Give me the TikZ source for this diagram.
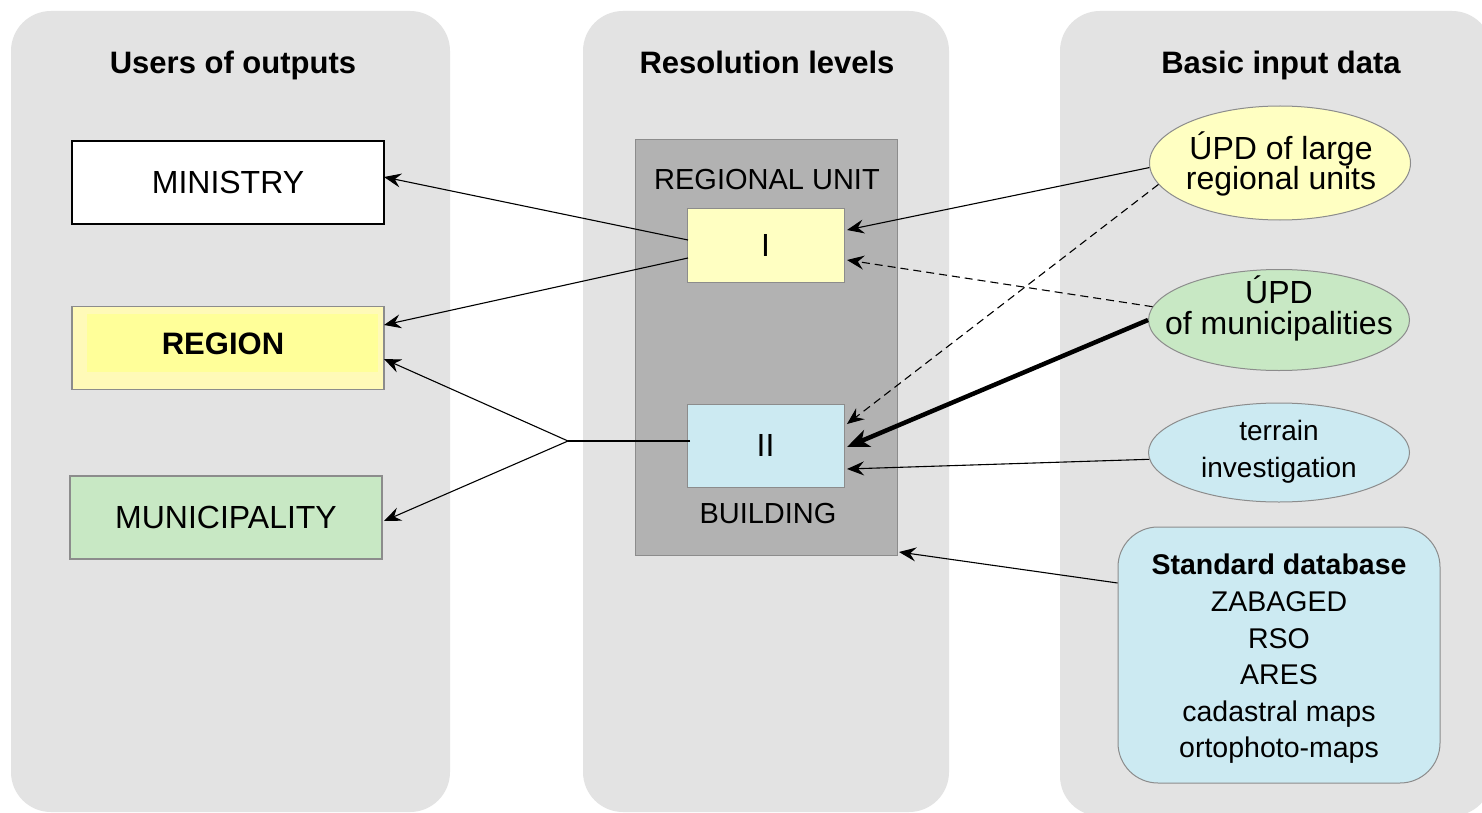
\documentclass[tikz,border=0pt]{standalone}
\usepackage{fontspec}
\setmainfont{Liberation Sans}
\usetikzlibrary{arrows.meta,shapes.geometric}
\definecolor{panelgray}{HTML}{E3E3E3}
\definecolor{darkgray}{HTML}{B2B2B2}
\definecolor{lyellow}{HTML}{FFFFC2}
\definecolor{ryellow}{HTML}{FFFAB8}
\definecolor{ryellowin}{HTML}{FFFF99}
\definecolor{lgreen}{HTML}{C8E8C4}
\definecolor{lblue}{HTML}{CCEAF2}
\definecolor{edgegray}{HTML}{8C8C8C}
\tikzset{
  panel/.style={fill=panelgray, draw=none, rounded corners=40pt},
  heading/.style={font=\fontsize{31}{34}\selectfont\bfseries, anchor=base},
  userbox/.style={draw=edgegray, line width=1.2pt, minimum width=312pt, minimum height=83pt, font=\fontsize{32}{36}\selectfont},
  levelbox/.style={draw=edgegray, line width=1pt, minimum width=157pt, minimum height=74pt, font=\fontsize{32}{36}\selectfont},
  datael/.style={ellipse, draw=edgegray, line width=1pt, minimum width=261pt, inner sep=0pt},
  eltext/.style={align=center, inner sep=0pt},
  conn/.style={-{Stealth[length=17pt,width=14pt,inset=6pt]}, line width=1.1pt},
  dconn/.style={conn, dashed, dash pattern=on 8pt off 5pt},
}
\begin{document}
\begin{tikzpicture}[x=1pt,y=-1pt]
\useasboundingbox (0,0) rectangle (1482,813);
\fill[white] (0,0) rectangle (1482,813);
% panels
\fill[panel] (11,11) rectangle (450,812);
\fill[panel] (583,11) rectangle (949,812);
\begin{scope}
\clip (0,0) rectangle (1482,813);
\fill[panel] (1060,11) rectangle (1492,816);
\end{scope}
% headings
\node[heading] (h1) at (233,74) {Users of outputs};
\node[heading] (h2) at (767,74) {Resolution levels};
\node[heading] (h3) at (1281,74) {Basic input data};
% users
\node[userbox, fill=white, draw=black] (min) at (228,182.5) {MINISTRY};
\node[userbox, fill=ryellow] (reg) at (228,348) {};
\fill[ryellowin] (87,314) rectangle (378,372);
\node[font=\fontsize{31}{34}\selectfont\bfseries] (regt) at (223,344) {REGION};
\node[userbox, fill=lgreen] (mun) at (226,517.5) {MUNICIPALITY};
% resolution levels
\node[draw=edgegray, line width=1pt, fill=darkgray, minimum width=262pt, minimum height=415pt] (gray) at (766,347.5) {};
\node[font=\fontsize{29}{32}\selectfont] (ru) at (767,180) {REGIONAL UNIT};
\node[levelbox, fill=lyellow] (I) at (765.5,245.5) {I};
\node[levelbox, fill=lblue, minimum height=83pt] (II) at (765.5,445.5) {II};
\node[font=\fontsize{29}{32}\selectfont] (bd) at (768,514) {BUILDING};
% input data
\node[datael, fill=lyellow, minimum height=114pt] (upd1) at (1280,163) {};
\node[eltext, font=\fontsize{32}{28}\selectfont] (upd1t) at (1281,164) {ÚPD of large\\regional units};
\node[datael, fill=lgreen, minimum height=101pt] (upd2) at (1279,320) {};
\node[eltext, font=\fontsize{32}{31}\selectfont] (upd2t) at (1279,308) {ÚPD\\of municipalities};
\node[datael, fill=lblue, minimum height=99pt] (ter) at (1279,452.5) {};
\node[eltext, font=\fontsize{28}{37}\selectfont] (tert) at (1279,452) {terrain\\investigation};
\node[draw=edgegray, line width=1pt, fill=lblue, rounded corners=40pt, minimum width=322pt, minimum height=256pt] (std) at (1279,655) {};
\node[eltext, font=\fontsize{28.5}{36.6}\selectfont] (stdt) at (1279,659) {\textbf{Standard database}\\ZABAGED\\RSO\\ARES\\cadastral maps\\ortophoto-maps};
% connectors
\coordinate (Ia) at (688,240);
\coordinate (Ib) at (688,258);
\coordinate (jn) at (568,441);
\draw[conn] (Ia) -- (384,177);
\draw[conn] (Ib) -- (384,325);
\draw[line width=1.8pt] (690,441) -- (jn);
\draw[conn] (jn) -- (384,359);
\draw[conn] (jn) -- (384,521);
\draw[conn] (upd1.182) -- (847,230);
\draw[dconn] (upd1.190) -- (847,424);
\draw[dconn] (upd2.174) -- (847,260);
\draw[conn, line width=4.5pt, -{Stealth[length=22pt,width=18pt,inset=6pt]}] (upd2.180) -- (847,447);
\draw[conn] (ter.183) -- (847,469);
\draw[conn] (std.west) ++(0,-72) coordinate (sa) -- (899,552);
\end{tikzpicture}
\end{document}
